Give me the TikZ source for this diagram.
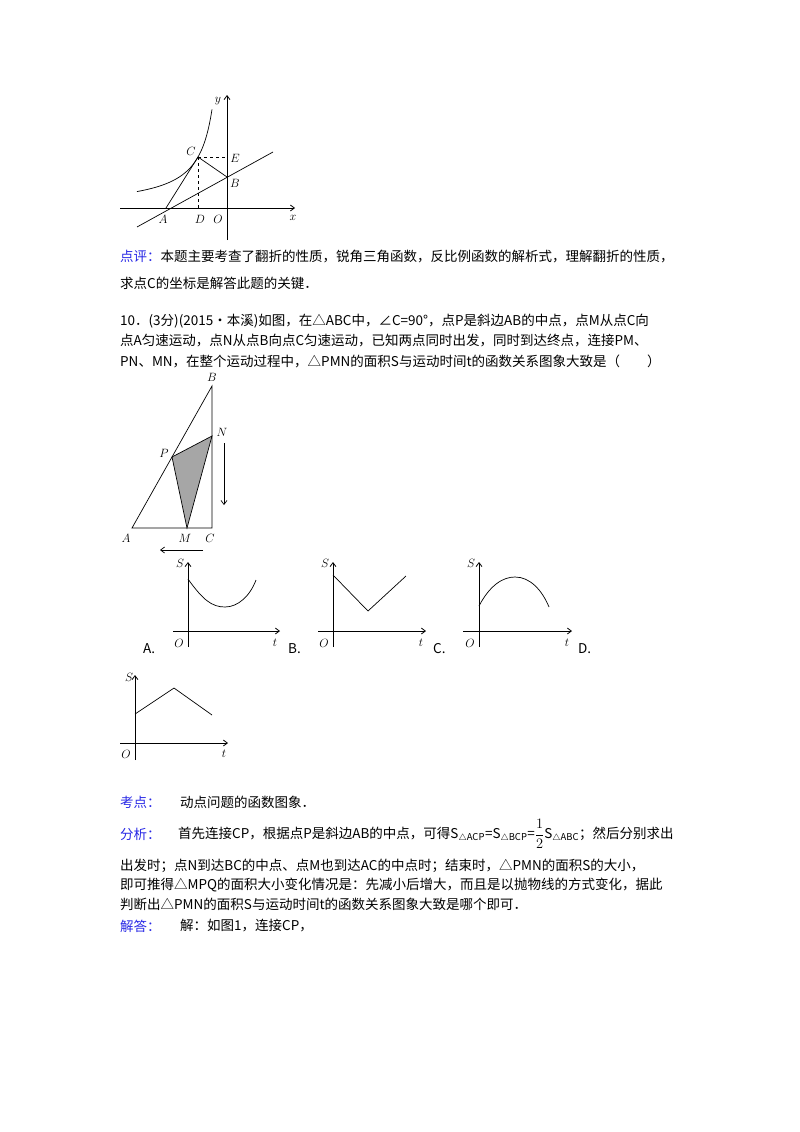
\documentclass[tikz,border=0pt]{standalone}
\usepackage{fontspec}
\setmainfont{Noto Sans CJK SC}
\usetikzlibrary{arrows.meta}
\definecolor{lblue}{RGB}{40,40,230}
\begin{document}
\begin{tikzpicture}[x=1pt,y=-1pt,
  txt/.style={anchor=west,inner sep=0pt,font=\fontsize{13.5}{14}\selectfont},
  lab/.style={inner sep=0pt,font=\fontsize{13}{13}\selectfont,execute at begin node=$,execute at end node=$},
  ax/.style={line width=0.8pt,-{Straight Barb[length=4pt,width=6pt]}},
  ln/.style={line width=0.7pt}]
\useasboundingbox[fill=white] (0,0) rectangle (800,1132);
% top figure
\coordinate (O1) at (227,208);
\draw[ax] (120,208) -- (295,208);
\draw[ax] (227,240) -- (227,95);
\draw[ln] (137,227) -- (273,152);
\draw[ln,domain=-90:-15,samples=60] plot ({227+\x},{208+1479/\x});
\coordinate (C) at (198,157); \coordinate (E) at (227,157);
\coordinate (B) at (227,177); \coordinate (A) at (166,208); \coordinate (D) at (198,208);
\draw[ln] (A) -- (C) -- (B);
\draw[ln,dashed] (C) -- (E) (C) -- (D);
\node[lab] (ly) at (218,101) {y};
\node[lab] (lC) at (191,151) {C};
\node[lab] (lE) at (235,158) {E};
\node[lab] (lB) at (235,183) {B};
\node[lab] (lA) at (163,219) {A};
\node[lab] (lD) at (200,219) {D};
\node[lab] (lO) at (218,219) {O};
\node[lab] (lx) at (293,218) {x};
% text
\node[txt] (t1) at (120,257) {{\color{lblue}点评：}本题主要考查了翻折的性质，锐角三角函数，反比例函数的解析式，理解翻折的性质，};
\node[txt] (t2) at (120,283) {求点C的坐标是解答此题的关键．};
\node[txt] (t3) at (120,321) {10．(3分)(2015•本溪)如图，在△ABC中，∠C=90°，点P是斜边AB的中点，点M从点C向};
\node[txt] (t4) at (120,341) {点A匀速运动，点N从点B向点C匀速运动，已知两点同时出发，同时到达终点，连接PM、};
\node[txt] (t5) at (120,361) {PN、MN，在整个运动过程中，△PMN的面积S与运动时间t的函数关系图象大致是（\quad\quad）};
% triangle
\coordinate (TB) at (212,386); \coordinate (TA) at (132,528); \coordinate (TC) at (212,528);
\coordinate (TN) at (212,436); \coordinate (TP) at (172,457); \coordinate (TM) at (187,528);
\fill[gray!70] (TP) -- (TN) -- (TM) -- cycle;
\draw[ln] (TP) -- (TN) -- (TM) -- cycle;
\draw[ln] (TA) -- (TB) -- (TC) -- cycle;
\draw[ln,-{Straight Barb[length=4pt,width=6pt]}] (224,443) -- (224,505);
\draw[ln,-{Straight Barb[length=4pt,width=6pt]}] (203,550) -- (160,550);
\node[lab] at (212,377) {B};
\node[lab] at (222,432) {N};
\node[lab] at (164,453) {P};
\node[lab] at (126,538) {A};
\node[lab] at (185,538) {M};
\node[lab] at (210,538) {C};
% graph A
\draw[ax] (173,631) -- (280,631); \draw[ax] (188,647) -- (188,562);
\draw[ln] (188,579) .. controls (203,600) and (212,607) .. (225,607) .. controls (238,607) and (250,596) .. (256,580);
\node[lab] at (180,563) {S}; \node[lab] at (179,643) {O}; \node[lab] at (275,643) {t};
\node[txt] at (143,649) {A.};
% graph B
\draw[ax] (318,631) -- (426,631); \draw[ax] (333,647) -- (333,562);
\draw[ln] (333,575) -- (368,611) -- (406,576);
\node[lab] at (325,563) {S}; \node[lab] at (324,643) {O}; \node[lab] at (421,643) {t};
\node[txt] at (288,649) {B.};
% graph C
\draw[ax] (463,631) -- (572,631); \draw[ax] (479,647) -- (479,562);
\draw[ln] (479,606) .. controls (490,585) and (503,577) .. (515,577) .. controls (530,577) and (542,590) .. (549,607);
\node[lab] at (471,563) {S}; \node[lab] at (470,643) {O}; \node[lab] at (567,643) {t};
\node[txt] at (433,649) {C.};
\node[txt] at (578,649) {D.};
% graph D
\draw[ax] (120,743) -- (228,743); \draw[ax] (135,760) -- (135,675);
\draw[ln] (135,714) -- (174,688) -- (212,715);
\node[lab] at (129,677) {S}; \node[lab] at (126,754) {O}; \node[lab] at (224,754) {t};
% bottom text
\node[txt] (k1) at (120,802) {\color{lblue}考点：};
\node[txt] (k2) at (180,802) {动点问题的函数图象．};
\node[txt] (f1) at (120,834) {\color{lblue}分析：};
\node[txt] (f2) at (178,834) {首先连接CP，根据点P是斜边AB的中点，可得S$_{\scriptstyle\triangle\mathrm{ACP}}$=S$_{\scriptstyle\triangle\mathrm{BCP}}$=$\displaystyle\frac12$S$_{\scriptstyle\triangle\mathrm{ABC}}$；然后分别求出};
\node[txt] (f3) at (120,866) {出发时；点N到达BC的中点、点M也到达AC的中点时；结束时，△PMN的面积S的大小，};
\node[txt] (f4) at (120,885) {即可推得△MPQ的面积大小变化情况是：先减小后增大，而且是以抛物线的方式变化，据此};
\node[txt] (f5) at (120,904) {判断出△PMN的面积S与运动时间t的函数关系图象大致是哪个即可．};
\node[txt] (j1) at (120,926) {\color{lblue}解答：};
\node[txt] (j2) at (180,926) {解：如图1，连接CP，};
\end{tikzpicture}
\end{document}
